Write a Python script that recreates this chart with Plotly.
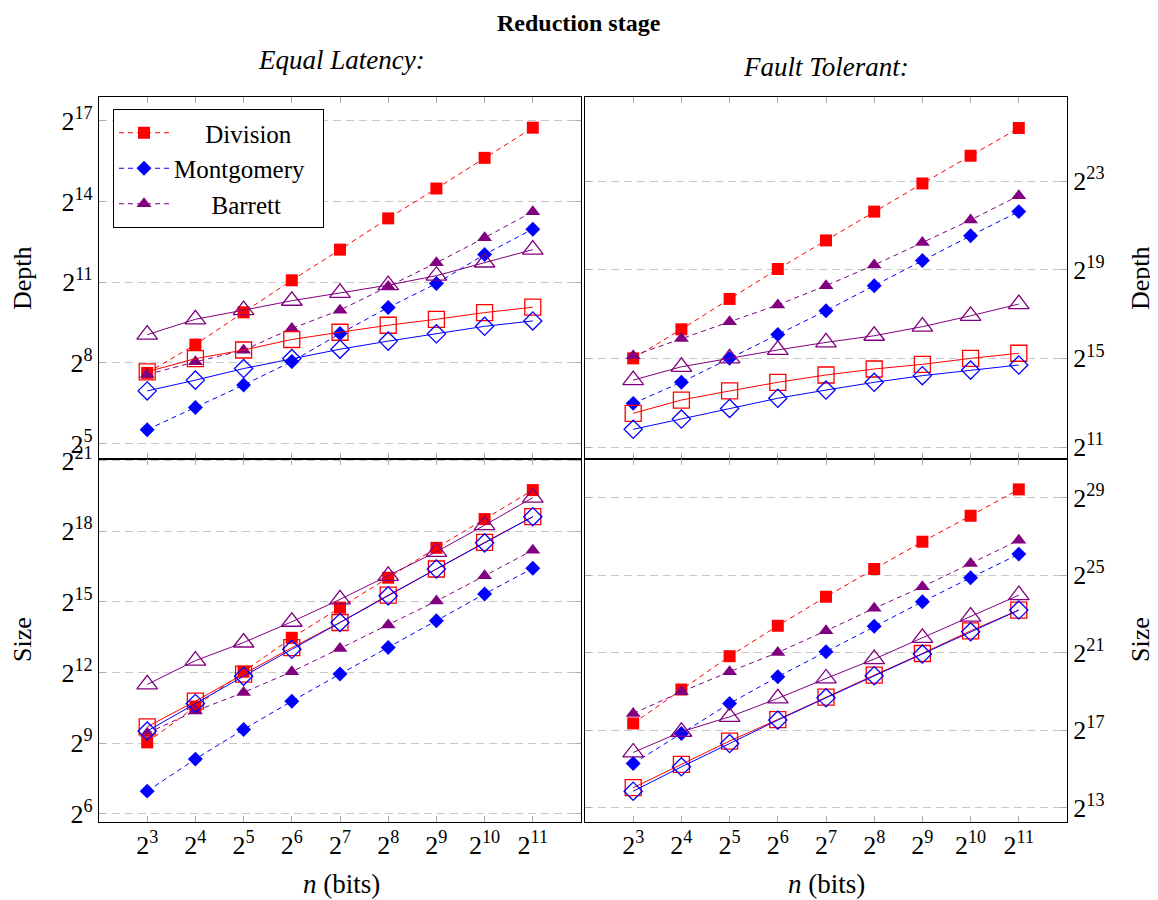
import numpy as np
import plotly.graph_objects as go
from plotly.subplots import make_subplots

# x axis: operand size n (bits)
n_bits = [8, 16, 32, 64, 128, 256, 512, 1024, 2048]

# Equal latency, depth
el_depth_div = [7.63, 8.68, 9.88, 11.07, 12.21, 13.37, 14.48, 15.62, 16.74]
el_depth_mont = [5.52, 6.34, 7.18, 8.05, 9.09, 10.06, 10.95, 12.03, 12.97]
el_depth_barr = [7.57, 8.04, 8.47, 9.28, 9.96, 10.84, 11.72, 12.65, 13.62]
el_depth_div_o = [7.67, 8.16, 8.48, 8.87, 9.14, 9.40, 9.62, 9.87, 10.07]
el_depth_mont_o = [6.96, 7.36, 7.79, 8.16, 8.51, 8.81, 9.08, 9.36, 9.56]
el_depth_barr_o = [9.05, 9.62, 9.96, 10.31, 10.60, 10.89, 11.24, 11.73, 12.21]

# Fault tolerant, depth
ft_depth_div = [15.0, 16.31, 17.68, 19.03, 20.32, 21.62, 22.89, 24.14, 25.39]
ft_depth_mont = [12.97, 13.92, 15.0, 16.08, 17.15, 18.28, 19.41, 20.53, 21.62]
ft_depth_barr = [15.12, 15.90, 16.65, 17.41, 18.28, 19.21, 20.23, 21.24, 22.34]
ft_depth_div_o = [12.52, 13.12, 13.53, 13.92, 14.25, 14.52, 14.73, 15.0, 15.23]
ft_depth_mont_o = [11.80, 12.26, 12.74, 13.20, 13.57, 13.92, 14.22, 14.47, 14.70]
ft_depth_barr_o = [14.02, 14.62, 15.0, 15.38, 15.72, 16.02, 16.43, 16.92, 17.45]

# Equal latency, size
el_size_div = [9.03, 10.55, 12.03, 13.47, 14.75, 16.02, 17.29, 18.51, 19.74]
el_size_mont = [6.96, 8.32, 9.58, 10.78, 11.93, 13.06, 14.19, 15.33, 16.42]
el_size_barr = [9.42, 10.36, 11.15, 12.03, 13.02, 14.01, 15.03, 16.10, 17.19]
el_size_div_o = [9.69, 10.78, 11.93, 13.05, 14.12, 15.28, 16.39, 17.52, 18.61]
el_size_mont_o = [9.51, 10.68, 11.84, 12.98, 14.12, 15.25, 16.39, 17.50, 18.61]
el_size_barr_o = [11.49, 12.50, 13.27, 14.15, 15.10, 16.10, 17.12, 18.25, 19.42]

# Fault tolerant, size
ft_size_div = [17.35, 19.10, 20.82, 22.39, 23.89, 25.32, 26.73, 28.07, 29.43]
ft_size_mont = [15.28, 16.83, 18.38, 19.76, 21.05, 22.37, 23.63, 24.87, 26.09]
ft_size_barr = [17.86, 18.98, 20.02, 21.01, 22.13, 23.29, 24.40, 25.61, 26.81]
ft_size_div_o = [14.03, 15.23, 16.44, 17.55, 18.71, 19.84, 20.96, 22.13, 23.20]
ft_size_mont_o = [13.85, 15.11, 16.31, 17.52, 18.67, 19.81, 20.93, 22.08, 23.20]
ft_size_barr_o = [15.85, 16.92, 17.69, 18.64, 19.67, 20.67, 21.77, 22.86, 23.97]

FONT = "Liberation Serif"
RED, BLUE, PURPLE = "#ff0000", "#0000ff", "#800080"
W, H = 1158, 900
OFF = 8  # page body margin


def px(x):
    return (x - OFF) / W


def py(y):
    return 1 - (y - OFF) / H


fig = make_subplots(rows=2, cols=2)

panels = [
    (1, 1, [el_depth_div, el_depth_mont, el_depth_barr],
     [el_depth_div_o, el_depth_mont_o, el_depth_barr_o]),
    (1, 2, [ft_depth_div, ft_depth_mont, ft_depth_barr],
     [ft_depth_div_o, ft_depth_mont_o, ft_depth_barr_o]),
    (2, 1, [el_size_div, el_size_mont, el_size_barr],
     [el_size_div_o, el_size_mont_o, el_size_barr_o]),
    (2, 2, [ft_size_div, ft_size_mont, ft_size_barr],
     [ft_size_div_o, ft_size_mont_o, ft_size_barr_o]),
]

names = ["Division", "Montgomery", "Barrett"]
# legend text is centred in the box of the original
nb = "\u00a0"
legend_names = [nb * 5 + "Division", "Montgomery" + nb * 2, nb * 6 + "Barrett"]
colors = [RED, BLUE, PURPLE]
sym_fill = ["square", "diamond", "triangle-up"]
sym_open = ["square-open", "diamond-open", "triangle-up-open"]
size_fill = [12, 11.5, 13]
size_open = [16, 14, 18]

for r, c, filled, opened in panels:
    first = (r == 1 and c == 1)
    for i in range(3):
        fig.add_trace(go.Scatter(
            x=n_bits, y=2 ** np.array(filled[i]), name=legend_names[i],
            mode="lines+markers", showlegend=first,
            line=dict(color=colors[i], width=1, dash="5px,4px"),
            marker=dict(symbol=sym_fill[i], size=size_fill[i], color=colors[i])),
            row=r, col=c)
    for i in range(3):
        fig.add_trace(go.Scatter(
            x=n_bits, y=2 ** np.array(opened[i]), name=names[i],
            mode="lines+markers", showlegend=False,
            line=dict(color=colors[i], width=1),
            marker=dict(symbol=sym_open[i], size=size_open[i], color=colors[i],
                        line=dict(width=1.3, color=colors[i]))),
            row=r, col=c)

L2 = np.log10(2)
xdom_l = [px(99), px(581)]
xdom_r = [px(585), px(1067)]
ydom_t = [py(459), py(97)]
ydom_b = [py(822), py(459)]

xtext = ["2<sup>%d</sup>" % e for e in range(3, 12)]

axis_common = dict(showline=True, linecolor="black", linewidth=1.3, mirror="ticks",
                   ticks="inside", ticklen=6, tickcolor="#aaaaaa", automargin=False,
                   tickfont=dict(family=FONT, size=26, color="black"))

for idx, (dom_x, dom_y) in enumerate([(xdom_l, ydom_t), (xdom_r, ydom_t),
                                      (xdom_l, ydom_b), (xdom_r, ydom_b)]):
    k = "" if idx == 0 else str(idx + 1)
    fig.layout["xaxis" + k].update(
        type="log", domain=dom_x, range=[2 * L2, 12 * L2],
        tickvals=n_bits, ticktext=xtext if idx >= 2 else [""] * 9,
        showgrid=False, **axis_common)

# y axes: (exponent ticks, range in log2, side)
yspec = [
    ([5, 8, 11, 14, 17], [4.43, 17.88], "left"),
    ([11, 15, 19, 23], [10.46, 26.79], "right"),
    ([6, 9, 12, 15, 18, 21], [5.65, 21.06], "left"),
    ([13, 17, 21, 25, 29], [12.26, 31.0], "right"),
]
for idx, (exps, rng, side) in enumerate(yspec):
    k = "" if idx == 0 else str(idx + 1)
    dom_y = ydom_t if idx < 2 else ydom_b
    fig.layout["yaxis" + k].update(
        type="log", domain=dom_y, range=[rng[0] * L2, rng[1] * L2], side=side,
        tickvals=[2 ** e for e in exps],
        ticktext=["2<sup>%d</sup>" % e for e in exps],
        showgrid=True, gridcolor="#c8c8c8", griddash="8px,5px", gridwidth=1,
        zeroline=False, **axis_common)

ann = [
    dict(text="<b>Reduction stage</b>", x=579, y=23, size=24),
    dict(text="<i>Equal Latency:</i>", x=341, y=60, size=27),
    dict(text="<i>Fault Tolerant:</i>", x=826, y=67, size=27),
    dict(text="<i>n</i> (bits)", x=341, y=884, size=27),
    dict(text="<i>n</i> (bits)", x=826, y=884, size=27),
]
for a in ann:
    fig.add_annotation(text=a["text"], x=px(a["x"]), y=py(a["y"]),
                       xref="paper", yref="paper", showarrow=False,
                       xanchor="center", yanchor="middle", borderpad=0,
                       font=dict(family=FONT, size=a["size"], color="black"))

side_titles = [("Depth", 22, 278), ("Size", 22, 640), ("Depth", 1140, 278), ("Size", 1140, 640)]
for t, x, y in side_titles:
    fig.add_annotation(text=t, x=px(x), y=py(y), xref="paper", yref="paper",
                       showarrow=False, textangle=-90, xanchor="center", yanchor="middle",
                       font=dict(family=FONT, size=26, color="black"))

fig.update_layout(
    width=W, height=H,
    margin=dict(l=0, r=0, t=0, b=0),
    paper_bgcolor="white", plot_bgcolor="white",
    font=dict(family=FONT, size=26, color="black"),
    legend=dict(x=px(113), y=py(109), xanchor="left", yanchor="top",
                bordercolor="black", borderwidth=1, bgcolor="white",
                itemwidth=50,
                font=dict(family=FONT, size=25), tracegroupgap=0),
)

fig.write_html("out.html")
